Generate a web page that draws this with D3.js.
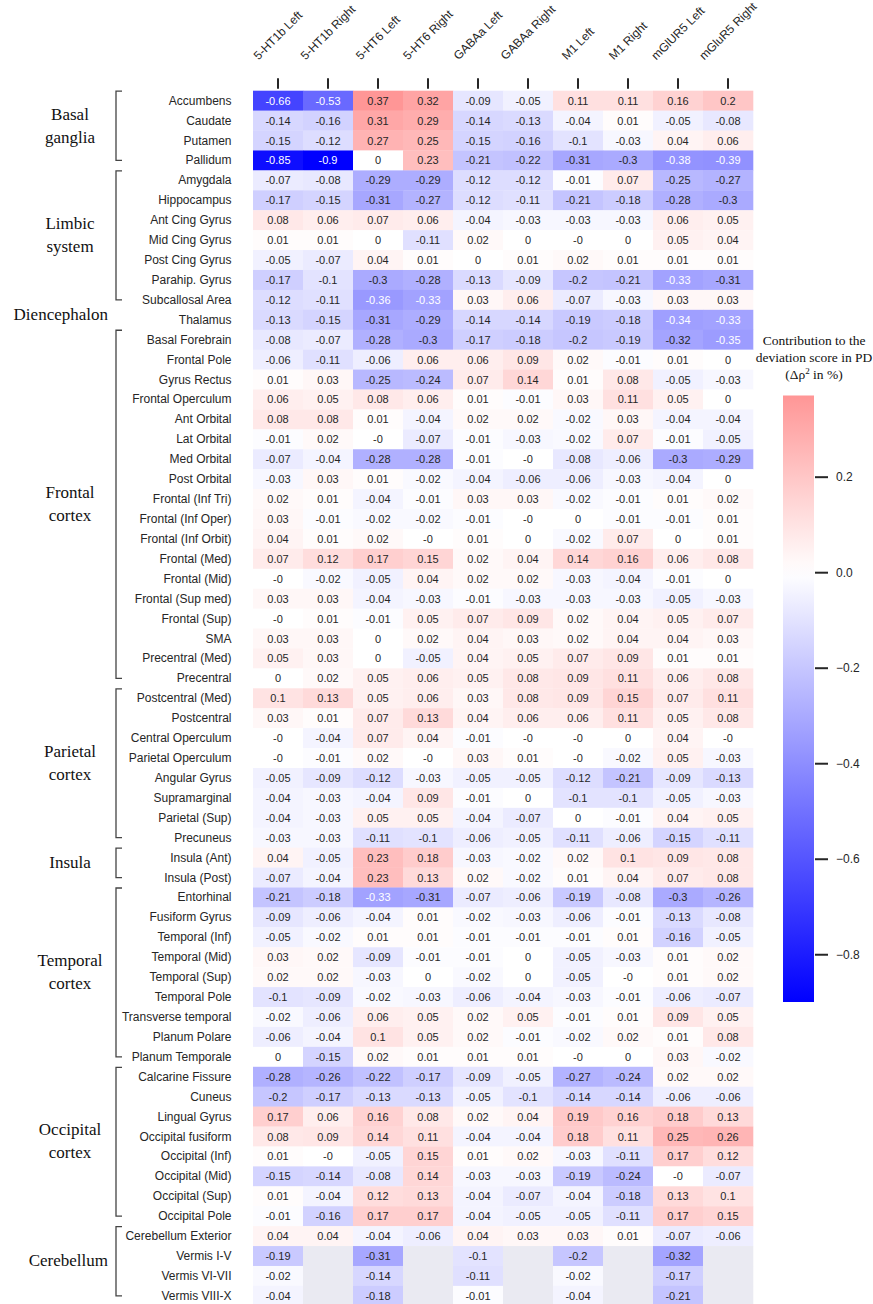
<!DOCTYPE html>
<html><head><meta charset="utf-8">
<script src="https://cdn.jsdelivr.net/npm/d3@7"></script>
<style>body{margin:0;background:#fff}svg{display:block}</style>
</head><body><svg id="chart" width="873" height="1304"></svg>
<script>
// ---------- DATA ----------
const receptors = ["5-HT1b Left","5-HT1b Right","5-HT6 Left","5-HT6 Right","GABAa Left","GABAa Right","M1 Left","M1 Right","mGlUR5 Left","mGluR5 Right"];

const regions = ["Accumbens","Caudate","Putamen","Pallidum",
 "Amygdala","Hippocampus","Ant Cing Gyrus","Mid Cing Gyrus","Post Cing Gyrus","Parahip. Gyrus","Subcallosal Area",
 "Thalamus",
 "Basal Forebrain","Frontal Pole","Gyrus Rectus","Frontal Operculum","Ant Orbital","Lat Orbital","Med Orbital","Post Orbital","Frontal (Inf Tri)","Frontal (Inf Oper)","Frontal (Inf Orbit)","Frontal (Med)","Frontal (Mid)","Frontal (Sup med)","Frontal (Sup)","SMA","Precentral (Med)","Precentral",
 "Postcentral (Med)","Postcentral","Central Operculum","Parietal Operculum","Angular Gyrus","Supramarginal","Parietal (Sup)","Precuneus",
 "Insula (Ant)","Insula (Post)",
 "Entorhinal","Fusiform Gyrus","Temporal (Inf)","Temporal (Mid)","Temporal (Sup)","Temporal Pole","Transverse temporal","Planum Polare","Planum Temporale",
 "Calcarine Fissure","Cuneus","Lingual Gyrus","Occipital fusiform","Occipital (Inf)","Occipital (Mid)","Occipital (Sup)","Occipital Pole",
 "Cerebellum Exterior","Vermis I-V","Vermis VI-VII","Vermis VIII-X"];

const groupNames = [["Basal","ganglia"],["Limbic","system"],["Diencephalon"],["Frontal","cortex"],["Parietal","cortex"],["Insula"],["Temporal","cortex"],["Occipital","cortex"],["Cerebellum"]];
const groupSizes = [4,7,1,18,8,2,9,8,4];

// one row per region, one column per receptor (null = no data)
const values = [
 [-0.66,-0.53,0.37,0.32,-0.09,-0.05,0.11,0.11,0.16,0.2],
 [-0.14,-0.16,0.31,0.29,-0.14,-0.13,-0.04,0.01,-0.05,-0.08],
 [-0.15,-0.12,0.27,0.25,-0.15,-0.16,-0.1,-0.03,0.04,0.06],
 [-0.85,-0.9,0,0.23,-0.21,-0.22,-0.31,-0.3,-0.38,-0.39],
 [-0.07,-0.08,-0.29,-0.29,-0.12,-0.12,-0.01,0.07,-0.25,-0.27],
 [-0.17,-0.15,-0.31,-0.27,-0.12,-0.11,-0.21,-0.18,-0.28,-0.3],
 [0.08,0.06,0.07,0.06,-0.04,-0.03,-0.03,-0.03,0.06,0.05],
 [0.01,0.01,0,-0.11,0.02,0,-0,0,0.05,0.04],
 [-0.05,-0.07,0.04,0.01,0,0.01,0.02,0.01,0.01,0.01],
 [-0.17,-0.1,-0.3,-0.28,-0.13,-0.09,-0.2,-0.21,-0.33,-0.31],
 [-0.12,-0.11,-0.36,-0.33,0.03,0.06,-0.07,-0.03,0.03,0.03],
 [-0.13,-0.15,-0.31,-0.29,-0.14,-0.14,-0.19,-0.18,-0.34,-0.33],
 [-0.08,-0.07,-0.28,-0.3,-0.17,-0.18,-0.2,-0.19,-0.32,-0.35],
 [-0.06,-0.11,-0.06,0.06,0.06,0.09,0.02,-0.01,0.01,0],
 [0.01,0.03,-0.25,-0.24,0.07,0.14,0.01,0.08,-0.05,-0.03],
 [0.06,0.05,0.08,0.06,0.01,-0.01,0.03,0.11,0.05,0],
 [0.08,0.08,0.01,-0.04,0.02,0.02,-0.02,0.03,-0.04,-0.04],
 [-0.01,0.02,-0,-0.07,-0.01,-0.03,-0.02,0.07,-0.01,-0.05],
 [-0.07,-0.04,-0.28,-0.28,-0.01,-0,-0.08,-0.06,-0.3,-0.29],
 [-0.03,0.03,0.01,-0.02,-0.04,-0.06,-0.06,-0.03,-0.04,0],
 [0.02,0.01,-0.04,-0.01,0.03,0.03,-0.02,-0.01,0.01,0.02],
 [0.03,-0.01,-0.02,-0.02,-0.01,-0,0,-0.01,-0.01,0.01],
 [0.04,0.01,0.02,-0,0.01,0,-0.02,0.07,0,0.01],
 [0.07,0.12,0.17,0.15,0.02,0.04,0.14,0.16,0.06,0.08],
 [-0,-0.02,-0.05,0.04,0.02,0.02,-0.03,-0.04,-0.01,0],
 [0.03,0.03,-0.04,-0.03,-0.01,-0.03,-0.03,-0.03,-0.05,-0.03],
 [-0,0.01,-0.01,0.05,0.07,0.09,0.02,0.04,0.05,0.07],
 [0.03,0.03,0,0.02,0.04,0.03,0.02,0.04,0.04,0.03],
 [0.05,0.03,0,-0.05,0.04,0.05,0.07,0.09,0.01,0.01],
 [0,0.02,0.05,0.06,0.05,0.08,0.09,0.11,0.06,0.08],
 [0.1,0.13,0.05,0.06,0.03,0.08,0.09,0.15,0.07,0.11],
 [0.03,0.01,0.07,0.13,0.04,0.06,0.06,0.11,0.05,0.08],
 [-0,-0.04,0.07,0.04,-0.01,-0,-0,0,0.04,-0],
 [-0,-0.01,0.02,-0,0.03,0.01,-0,-0.02,0.05,-0.03],
 [-0.05,-0.09,-0.12,-0.03,-0.05,-0.05,-0.12,-0.21,-0.09,-0.13],
 [-0.04,-0.03,-0.04,0.09,-0.01,0,-0.1,-0.1,-0.05,-0.03],
 [-0.04,-0.03,0.05,0.05,-0.04,-0.07,0,-0.01,0.04,0.05],
 [-0.03,-0.03,-0.11,-0.1,-0.06,-0.05,-0.11,-0.06,-0.15,-0.11],
 [0.04,-0.05,0.23,0.18,-0.03,-0.02,0.02,0.1,0.09,0.08],
 [-0.07,-0.04,0.23,0.13,0.02,-0.02,0.01,0.04,0.07,0.08],
 [-0.21,-0.18,-0.33,-0.31,-0.07,-0.06,-0.19,-0.08,-0.3,-0.26],
 [-0.09,-0.06,-0.04,0.01,-0.02,-0.03,-0.06,-0.01,-0.13,-0.08],
 [-0.05,-0.02,0.01,0.01,-0.01,-0.01,-0.01,0.01,-0.16,-0.05],
 [0.03,0.02,-0.09,-0.01,-0.01,0,-0.05,-0.03,0.01,0.02],
 [0.02,0.02,-0.03,0,-0.02,0,-0.05,-0,0.01,0.02],
 [-0.1,-0.09,-0.02,-0.03,-0.06,-0.04,-0.03,-0.01,-0.06,-0.07],
 [-0.02,-0.06,0.06,0.05,0.02,0.05,-0.01,0.01,0.09,0.05],
 [-0.06,-0.04,0.1,0.05,0.02,-0.01,-0.02,0.02,0.01,0.08],
 [0,-0.15,0.02,0.01,0.01,0.01,-0,0,0.03,-0.02],
 [-0.28,-0.26,-0.22,-0.17,-0.09,-0.05,-0.27,-0.24,0.02,0.02],
 [-0.2,-0.17,-0.13,-0.13,-0.05,-0.1,-0.14,-0.14,-0.06,-0.06],
 [0.17,0.06,0.16,0.08,0.02,0.04,0.19,0.16,0.18,0.13],
 [0.08,0.09,0.14,0.11,-0.04,-0.04,0.18,0.11,0.25,0.26],
 [0.01,-0,-0.05,0.15,0.01,0.02,-0.03,-0.11,0.17,0.12],
 [-0.15,-0.14,-0.08,0.14,-0.03,-0.03,-0.19,-0.24,-0,-0.07],
 [0.01,-0.04,0.12,0.13,-0.04,-0.07,-0.04,-0.18,0.13,0.1],
 [-0.01,-0.16,0.17,0.17,-0.04,-0.05,-0.05,-0.11,0.17,0.15],
 [0.04,0.04,-0.04,-0.06,0.04,0.03,0.03,0.01,-0.07,-0.06],
 [-0.19,null,-0.31,null,-0.1,null,-0.2,null,-0.32,null],
 [-0.02,null,-0.14,null,-0.11,null,-0.02,null,-0.17,null],
 [-0.04,null,-0.18,null,-0.01,null,-0.04,null,-0.21,null]
];

const colorbarTicks = [0.2, 0.0, -0.2, -0.4, -0.6, -0.8];
const colorbarTitle = ["Contribution to the", "deviation score in PD"];

// ---------- LAYOUT ----------
const SANS = "'Liberation Sans', Arial, sans-serif";
const SERIF = "'Liberation Serif', 'Times New Roman', serif";
const TXT = "#262626";
const heatLeft = 253, heatRight = 753, heatTop = 90.7, rowH = 19.92;

const svg = d3.select("#chart");

const x = d3.scaleBand().domain(receptors).range([heatLeft, heatRight]).padding(0);
const y = d3.scaleBand().domain(regions).range([heatTop, heatTop + rowH * regions.length]).padding(0);

const allVals = values.flat().filter(v => v !== null);
const vMin = d3.min(allVals), vMax = d3.max(allVals);
const vRange = Math.max(Math.abs(vMin), Math.abs(vMax));
const color = d3.scaleLinear().domain([-vRange, 0, vRange]).range(["#0000ff", "#ffffff", "#ff0000"]).clamp(true);

function relLum(c) {
  const rgb = d3.rgb(c);
  const f = v => { v /= 255; return v <= 0.03928 ? v / 12.92 : Math.pow((v + 0.055) / 1.055, 2.4); };
  return 0.2126 * f(rgb.r) + 0.7152 * f(rgb.g) + 0.0722 * f(rgb.b);
}
const fmt = v => Object.is(v, -0) ? "-0" : String(v);

const cells = [];
values.forEach((row, i) => row.forEach((v, j) => cells.push({ region: regions[i], receptor: receptors[j], v })));

// cells
const gCells = svg.append("g");
gCells.selectAll("rect").data(cells).join("rect")
  .attr("x", d => x(d.receptor))
  .attr("y", d => y(d.region))
  .attr("width", x.bandwidth() + 0.3)
  .attr("height", y.bandwidth() + 0.3)
  .attr("fill", d => d.v === null ? "#eaeaf2" : color(d.v));

gCells.selectAll("text").data(cells.filter(d => d.v !== null)).join("text")
  .attr("x", d => x(d.receptor) + x.bandwidth() / 2)
  .attr("y", d => y(d.region) + y.bandwidth() / 2)
  .attr("text-anchor", "middle")
  .attr("dominant-baseline", "central")
  .style("font-family", SANS).style("font-size", "11px")
  .attr("fill", d => relLum(color(d.v)) > 0.408 ? TXT : "#ffffff")
  .text(d => fmt(d.v));

// row labels
svg.append("g").selectAll("text").data(regions).join("text")
  .attr("x", heatLeft - 21.5)
  .attr("y", d => y(d) + y.bandwidth() / 2)
  .attr("text-anchor", "end")
  .attr("dominant-baseline", "central")
  .style("font-family", SANS).style("font-size", "12px")
  .attr("fill", TXT)
  .text(d => d);

// column ticks (top)
svg.append("g").selectAll("line").data(receptors).join("line")
  .attr("x1", d => x(d) + x.bandwidth() / 2).attr("x2", d => x(d) + x.bandwidth() / 2)
  .attr("y1", heatTop - 12.5).attr("y2", heatTop - 2)
  .attr("stroke", TXT).attr("stroke-width", 2);

// column labels rotated 45°
svg.append("g").selectAll("text").data(receptors).join("text")
  .attr("text-anchor", "middle")
  .attr("dominant-baseline", "central")
  .style("font-family", SANS).style("font-size", "12px")
  .attr("fill", TXT)
  .text(d => d)
  .each(function (d) {
    const w = this.getComputedTextLength();
    const h = 12;
    const half = (w + h) / (2 * Math.SQRT2);
    const cx = x(d) + x.bandwidth() / 2;
    const cy = 62 - half;
    d3.select(this).attr("transform", `translate(${cx},${cy}) rotate(-45)`);
  });

// group brackets + labels
let start = 0;
const gGroups = svg.append("g");
groupSizes.forEach((n, gi) => {
  const first = regions[start], last = regions[start + n - 1];
  const top = y(first), bottom = y(last) + y.bandwidth() / 2;
  const mid = (y(first) + y(last) + y.bandwidth()) / 2;
  if (n > 1) {
    gGroups.append("path")
      .attr("d", `M122,${top + 0.5} H116 V${bottom} H122`)
      .attr("fill", "none").attr("stroke", "#444").attr("stroke-width", 1.3);
  }
  const lines = groupNames[gi];
  const lh = 23;
  const t = gGroups.append("text")
    .attr("text-anchor", "middle")
    .style("font-family", SERIF).style("font-size", "17px")
    .attr("fill", "#111");
  const spans = t.selectAll("tspan").data(lines).join("tspan")
    .attr("y", (d, i) => mid + 0.5 + (i - (lines.length - 1) / 2) * lh)
    .text(d => d);
  spans.each(function () {
    const w = this.getComputedTextLength();
    d3.select(this).attr("x", Math.min(70, 108 - w / 2));
  });
  start += n;
});

// colorbar
const cbX = 783, cbW = 31, cbTop = 395.5, cbBottom = 1002;
const cbScale = d3.scaleLinear().domain([vMin, vMax]).range([cbBottom, cbTop]);
const defs = svg.append("defs");
const grad = defs.append("linearGradient").attr("id", "cbGrad")
  .attr("x1", 0).attr("y1", 0).attr("x2", 0).attr("y2", 1);
const stopsVals = d3.range(0, 41).map(k => vMax - (vMax - vMin) * k / 40);
grad.selectAll("stop").data(stopsVals).join("stop")
  .attr("offset", d => ((vMax - d) / (vMax - vMin)))
  .attr("stop-color", d => color(d));
svg.append("rect").attr("x", cbX).attr("y", cbTop).attr("width", cbW).attr("height", cbBottom - cbTop)
  .attr("fill", "url(#cbGrad)");

const cbAxis = d3.axisRight(cbScale).tickValues(colorbarTicks).tickSize(13).tickPadding(8)
  .tickFormat(d => d3.format(".1f")(d).replace("-", "\u2212"));
const gAxis = svg.append("g").attr("transform", `translate(${cbX + cbW + 1},0)`).call(cbAxis);
gAxis.select(".domain").remove();
gAxis.selectAll(".tick line").attr("stroke", TXT).attr("stroke-width", 2);
gAxis.selectAll(".tick text").style("font-family", SANS).style("font-size", "12px").attr("fill", TXT);

// colorbar title
const gTitle = svg.append("text").attr("text-anchor", "middle")
  .style("font-family", SERIF).style("font-size", "13.5px").attr("fill", "#111");
colorbarTitle.forEach((t, i) => gTitle.append("tspan").attr("x", 814).attr("y", 345 + i * 17).text(t));
const t3 = gTitle.append("tspan").attr("x", 814).attr("y", 345 + 2 * 17);
t3.append("tspan").text("(\u0394\u03c1");
t3.append("tspan").attr("dy", -5).style("font-size", "9px").text("2");
t3.append("tspan").attr("dy", 5).text(" in %)");
</script>
</body></html>
